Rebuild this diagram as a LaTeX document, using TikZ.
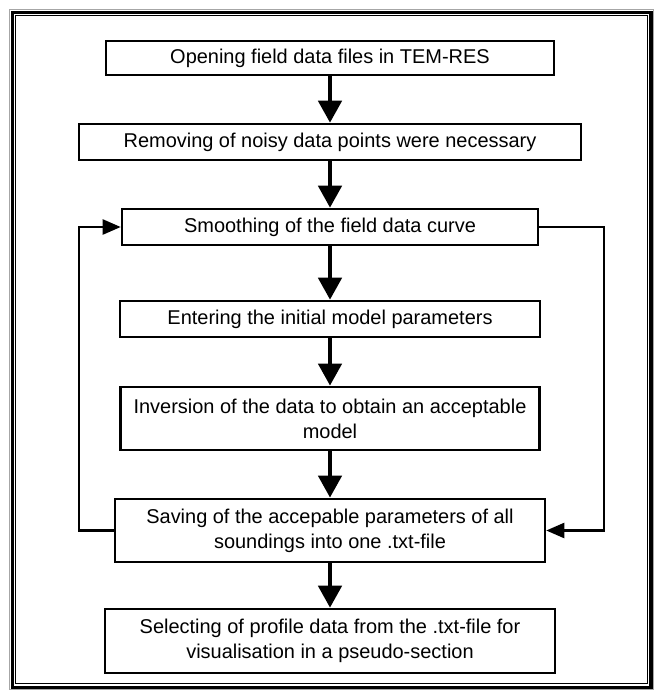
\documentclass[tikz,border=0pt]{standalone}
\usepackage{fontspec}
\setmainfont{Liberation Sans}
\usepackage{tikz}
\usetikzlibrary{arrows.meta, positioning}

\begin{document}
\begin{tikzpicture}[
    stepbox/.style={rectangle, draw=black, fill=white, line width=1.8pt, inner sep=0pt, align=center, minimum height=0.9cm, font=\fontsize{14.2}{17.8}\selectfont},
    tallbox/.style={stepbox, minimum height=1.58cm},
    flow/.style={draw=black, line width=3.2pt, -{Triangle[length=0.55cm, width=0.575cm]}},
    back/.style={draw=black, line width=1.6pt, -{Triangle[length=0.45cm, width=0.375cm]}}
]
    \useasboundingbox (0,0) rectangle (16.35,-17.25);

    % Page frame: thick outer line, thin inner line
    \draw [gray!70, line width=0.6pt] (0.2375,-0.2375) rectangle (16.33,-17.24);
    \draw [line width=2.5pt] (0.3125,-0.3125) rectangle (16.275,-17.1875);
    \draw [line width=0.85pt] (0.3875,-0.3875) rectangle (16.19,-17.0875);

    % Steps of the processing
    \node (open) at (8.25, -1.45) [stepbox, minimum width=11.2cm, minimum height=0.85cm] {Opening field data files in TEM-RES};
    \node (remove) at (8.25, -3.55) [stepbox, minimum width=12.55cm] {Removing of noisy data points were necessary};
    \node (smooth) at (8.25, -5.675) [stepbox, minimum width=10.4cm] {Smoothing of the field data curve};
    \node (enter) at (8.25, -7.975) [stepbox, minimum width=10.5cm] {Entering the initial model parameters};
    \node (invert) at (8.25, -10.4625) [tallbox, minimum width=10.475cm] {Inversion of the data to obtain an acceptable\\model};
    \node (save) at (8.25, -13.2625) [tallbox, minimum width=10.75cm] {Saving of the accepable parameters of all\\soundings into one .txt-file};
    \node (select) at (8.25, -16.025) [tallbox, minimum width=11.25cm, minimum height=1.6cm] {Selecting of profile data from the .txt-file for\\visualisation in a pseudo-section};

    % Main flow
    \draw [flow] (open.south) -- (remove.north);
    \draw [flow] (remove.south) -- (smooth.north);
    \draw [flow] (smooth.south) -- (enter.north);
    \draw [flow] (enter.south) -- (invert.north);
    \draw [flow] (invert.south) -- (save.north);
    \draw [flow] (save.south) -- (select.north);

    % Loops back and forth between smoothing and saving
    \draw [back] (save.west) -- ++(-0.875,0) |- (smooth.west);
    \draw [back] (smooth.east) -- ++(1.625,0) |- (save.east);

\end{tikzpicture}
\end{document}
